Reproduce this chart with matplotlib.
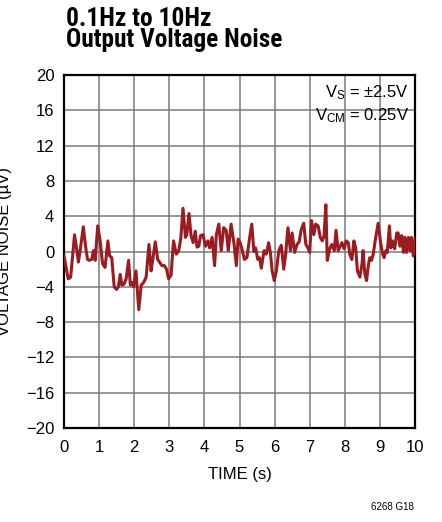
import matplotlib
matplotlib.use("Agg")
import matplotlib.pyplot as plt

FONT = "Liberation Sans"
TITLE_FONT = ["Roboto Condensed", "Archivo Narrow", "Liberation Sans"]
plt.rcParams["font.family"] = [FONT, "DejaVu Sans"]
plt.rcParams["mathtext.fontset"] = "custom"
plt.rcParams["mathtext.rm"] = FONT
plt.rcParams["mathtext.it"] = FONT
plt.rcParams["mathtext.bf"] = FONT

# ---- data ----
time_s = [0.0, 0.12, 0.19, 0.30, 0.36, 0.41, 0.46, 0.55, 0.62, 0.67, 0.72, 0.79, 0.84, 0.89,
          0.96, 1.03, 1.10, 1.17, 1.25, 1.30, 1.36, 1.43, 1.50, 1.55, 1.60, 1.65, 1.71, 1.77,
          1.84, 1.89, 1.93, 1.98, 2.05, 2.13, 2.20, 2.27, 2.34, 2.42, 2.48, 2.53, 2.60, 2.67,
          2.72, 2.79, 2.86, 2.92, 2.98, 3.05, 3.12, 3.20, 3.27, 3.33, 3.39, 3.46, 3.50, 3.56,
          3.62, 3.68, 3.74, 3.79, 3.84, 3.89, 3.96, 4.03, 4.10, 4.15, 4.22, 4.29, 4.34, 4.41,
          4.48, 4.55, 4.62, 4.68, 4.76, 4.84, 4.91, 4.96, 5.02, 5.07, 5.14, 5.21, 5.29, 5.35,
          5.41, 5.46, 5.52, 5.57, 5.62, 5.70, 5.76, 5.83, 5.88, 5.93, 5.99, 6.05, 6.12, 6.19,
          6.26, 6.31, 6.38, 6.45, 6.50, 6.57, 6.64, 6.70, 6.76, 6.83, 6.89, 6.95, 7.00, 7.05,
          7.12, 7.17, 7.24, 7.30, 7.36, 7.41, 7.46, 7.50, 7.57, 7.63, 7.70, 7.75, 7.81, 7.87,
          7.92, 7.98, 8.04, 8.10, 8.14, 8.20, 8.26, 8.31, 8.36, 8.43, 8.49, 8.52, 8.57, 8.62,
          8.67, 8.71, 8.76, 8.81, 8.88, 8.95, 9.02, 9.08, 9.12, 9.17, 9.21, 9.27, 9.31, 9.36,
          9.42, 9.48, 9.52, 9.57, 9.62, 9.67, 9.71, 9.76, 9.81, 9.86, 9.90, 9.95, 10.0]
noise_uv = [-0.5, -3.1, -2.9, 1.9, 0.3, -1.2, 0.1, 2.8, 0.4, -0.9, -1.0, -0.9, 0.1, -1.0,
            2.9, 1.2, -1.4, -1.8, 1.2, -0.5, -0.7, -4.0, -4.3, -4.0, -2.6, -3.8, -3.7, -3.1,
            -1.0, -3.8, -3.5, -4.0, -2.2, -6.6, -3.8, -3.5, -2.9, 0.8, -2.2, -0.9, 1.1, -0.9,
            -1.2, -1.6, -1.6, -2.0, -3.1, -2.7, 1.2, -0.3, 0.1, 1.6, 4.9, 1.6, 1.9, 4.3,
            1.8, 1.0, 2.3, 0.5, 0.6, 1.8, 1.9, 0.6, 1.2, 0.4, 1.6, -1.6, 1.9, 3.1,
            0.1, 2.7, 2.4, 0.1, 3.1, 1.0, -1.6, 1.4, 1.0, 0.3, -0.9, -0.7, 1.6, 3.1,
            0.0, 0.4, -0.9, -0.7, -1.9, 0.1, -0.3, 1.0, -0.1, -2.2, -3.3, -2.2, 0.1, 0.7,
            -2.0, -0.5, 2.7, 0.1, 2.1, -0.1, 0.8, 1.1, 2.5, 3.2, 0.8, 0.4, -0.1, 3.5,
            1.9, 3.1, 2.9, 1.6, 1.2, 1.8, 5.3, -1.0, 0.3, 0.8, 0.1, 2.4, 0.1, 0.6,
            1.0, 0.3, 1.2, 1.0, -0.3, -0.9, 1.2, 0.4, -2.2, -2.9, -1.4, 0.1, -2.5, -3.3,
            -1.6, -0.7, -1.0, -0.3, 1.6, 3.2, 1.0, -0.3, -0.7, 0.1, -0.1, 2.9, 0.4, 1.2,
            0.3, 2.1, 2.1, 0.6, 1.8, -0.1, 1.6, -0.1, 1.6, 0.1, 1.6, -0.5, 1.4]
x_ticks = [0, 1, 2, 3, 4, 5, 6, 7, 8, 9, 10]
y_ticks = [-20, -16, -12, -8, -4, 0, 4, 8, 12, 16, 20]
y_tick_labels = ["\u221220", "\u221216", "\u221212", "\u22128", "\u22124", "0", "4", "8", "12", "16", "20"]

W, H = 442, 522
fig = plt.figure(figsize=(W / 100, H / 100), dpi=100)
ax = fig.add_axes([64 / W, 1 - 428 / H, (415 - 64) / W, (428 - 75) / H])

ax.plot(time_s, noise_uv, color="#9b1c20", lw=2.2, solid_joinstyle="round", zorder=3)

ax.set_xlim(0, 10)
ax.set_ylim(-20, 20)
ax.set_xticks(x_ticks)
ax.set_yticks(y_ticks)
ax.set_yticklabels(y_tick_labels)
ax.grid(True, color="#7a7a7a", lw=1.1)
ax.set_axisbelow(True)
ax.tick_params(axis="both", length=0, labelsize=12, colors="black")
ax.tick_params(axis="x", pad=9)
ax.tick_params(axis="y", pad=7)
for s in ax.spines.values():
    s.set_linewidth(1.6)
    s.set_color("black")

ax.set_xlabel("TIME (s)", fontsize=12, labelpad=8)

fig.text(66 / W, 1 - 47 / H, "0.1Hz to 10Hz\nOutput Voltage Noise", fontsize=18.3,
         fontweight="bold", family=TITLE_FONT, va="baseline", ha="left",
         linespacing=0.82, multialignment="left")

fig.text(409 / W, 1 - 97 / H, "V$_\\mathrm{S}$ = \u00b12.5V", fontsize=12, ha="right", va="baseline")
fig.text(409 / W, 1 - 120 / H, "V$_\\mathrm{CM}$ = 0.25V", fontsize=12, ha="right", va="baseline")

fig.text(12 / W, 1 - 251 / H, "VOLTAGE NOISE (\u00b5V)", fontsize=12, rotation=90, ha="right", va="center")
fig.text(414 / W, 1 - 510 / H, "6268 G18", fontsize=7, ha="right", va="baseline")

fig.savefig("out.png", dpi=100)
